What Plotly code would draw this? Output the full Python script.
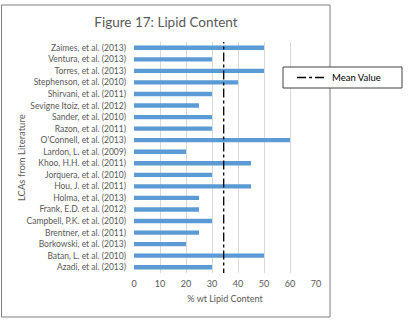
import numpy as np
import plotly.graph_objects as go

studies = [
    "Zaimes, et al. (2013)", "Ventura, et al. (2013)", "Torres, et al. (2013)",
    "Stephenson, et al. (2010)", "Shirvani, et al. (2011)", "Sevigne Itoiz, et al. (2012)",
    "Sander, et al. (2010)", "Razon, et al. (2011)", "O'Connell, et al. (2013)",
    "Lardon, L. et al. (2009)", "Khoo, H.H. et al. (2011)", "Jorquera, et al. (2010)",
    "Hou, J. et al. (2011)", "Holma, et al. (2013)", "Frank, E.D. et al. (2012)",
    "Campbell, P.K. et al. (2010)", "Brentner, et al. (2011)", "Borkowski, et al. (2013)",
    "Batan, L. et al. (2010)", "Azadi, et al. (2013)",
]
lipid = [50, 30, 50, 40, 30, 25, 30, 30, 60, 20, 45, 30, 45, 25, 25, 30, 25, 20, 50, 30]
mean_val = float(np.mean(lipid))
x_ticks = [0, 10, 20, 30, 40, 50, 60, 70]

GRAY = "#595959"
FONT = "Lato"

fig = go.Figure()
fig.add_trace(go.Bar(
    x=lipid, y=studies, orientation="h",
    marker=dict(color="#5B9BD5", line=dict(width=0)),
    width=0.38, showlegend=False, hoverinfo="x+y",
))
fig.add_trace(go.Scatter(
    x=[mean_val, mean_val], y=[-0.02, 1.01], yaxis="y2", mode="lines",
    line=dict(color="black", width=1.3, dash="dashdot"),
    name="Mean Value", showlegend=True,
))

L, R, T, B = 134, 104, 42, 47
W, H = 420, 320
pw, ph = W - L - R, H - T - B
def px(x): return (x - L) / pw
def py(y): return (H - B - y) / ph

fig.update_layout(
    width=W, height=H,
    margin=dict(l=L, r=R, t=T, b=B),
    paper_bgcolor="white", plot_bgcolor="white",
    font=dict(family=FONT, color=GRAY, size=8.5),
    title=dict(text="Figure 17: Lipid Content", x=166 / W, xanchor="center",
               y=1 - 22 / H, yanchor="middle", font=dict(size=13.5, color=GRAY, family=FONT)),
    xaxis=dict(range=[0, 70], tickvals=x_ticks, showgrid=True, gridcolor="#D9D9D9",
               gridwidth=1, zeroline=False, showline=False,
               tickfont=dict(size=9, color=GRAY), ticklabelstandoff=4,
               title=dict(text="% wt Lipid Content", font=dict(size=9, color=GRAY), standoff=7)),
    yaxis=dict(autorange="reversed", showgrid=False, zeroline=False, showline=False,
               tickmode="array", tickvals=studies, ticktext=studies,
               tickfont=dict(size=8.5, color=GRAY), ticklabelstandoff=7),
    yaxis2=dict(overlaying="y", range=[0, 1], visible=False),
    legend=dict(x=px(292), y=py(77.5), xanchor="left", yanchor="middle",
                bgcolor="rgba(0,0,0,0)", borderwidth=0,
                font=dict(size=9.5, color="black", family=FONT)),
    annotations=[
        dict(text="LCAs from Literature", xref="paper", yref="paper",
             x=px(21), y=py(158), textangle=-90, showarrow=False,
             xanchor="center", yanchor="middle", font=dict(size=9.5, color=GRAY)),
    ],
    shapes=[
        dict(type="rect", xref="paper", yref="paper",
             x0=px(1.5), x1=px(330), y0=py(317), y1=py(5),
             line=dict(color="#7F7F7F", width=1), fillcolor="rgba(0,0,0,0)", layer="above"),
        dict(type="rect", xref="paper", yref="paper",
             x0=px(283), x1=px(402), y0=py(88), y1=py(67),
             line=dict(color="#404040", width=1), fillcolor="white", layer="above"),
    ],
)

fig.write_html("out.html")
